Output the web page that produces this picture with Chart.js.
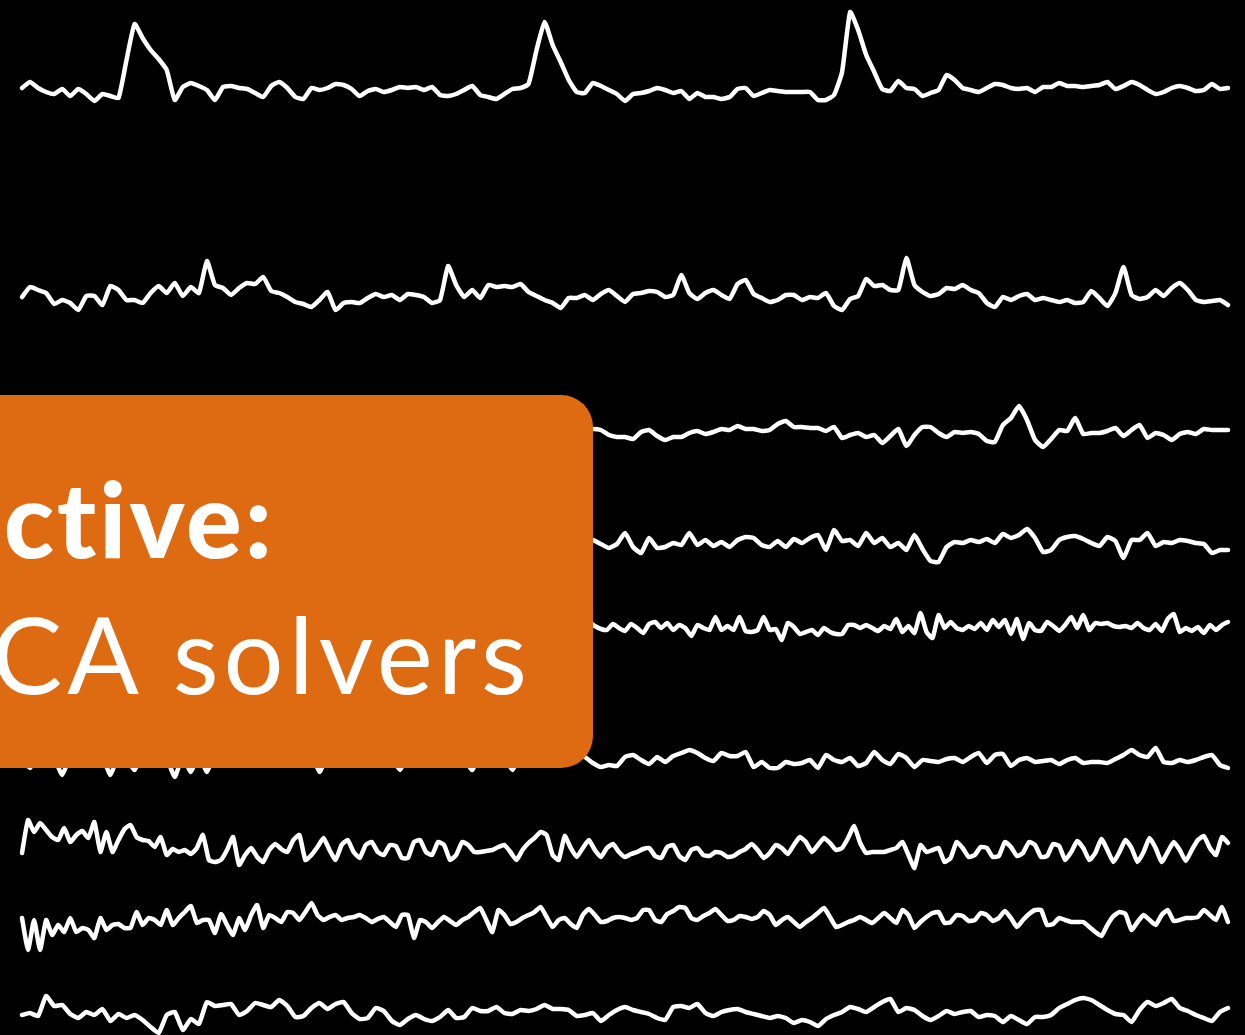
<!DOCTYPE html>
<html>
<head>
<meta charset="utf-8">
<script src="https://cdn.jsdelivr.net/npm/chart.js@4.4.1/dist/chart.umd.min.js"></script>
<style>
  html, body { margin: 0; padding: 0; background: #000; overflow: hidden; }
  #page { position: relative; width: 1245px; height: 1035px; }
  #traces { position: absolute; left: 0; top: 0; }
  .banner {
    position: absolute; left: -60px; top: 395px; width: 653px; height: 373px;
    background: #DE6B12; border-radius: 32px;
  }
  .line {
    position: absolute; color: #fff; font-family: Lato, "Open Sans", sans-serif;
    white-space: nowrap; line-height: 1; text-align: right;
    font-variant-ligatures: none; font-feature-settings: "liga" 0, "clig" 0;
  }
  .l1 { right: 970px; top: 466px; font-size: 104px; font-weight: 900; letter-spacing: 3px; }
  .l2 { right: 713px; top: 600px; font-size: 106px; font-weight: 400; letter-spacing: 5px; }
</style>
</head>
<body>
<div id="page">
  <canvas id="traces" width="1245" height="1035"></canvas>
  <div class="banner"></div>
  <div class="line l1">ctive:</div>
  <div class="line l2">CA solvers</div>
</div>
<script>
// nine recorded channels, amplitude relative to each channel's resting level
const trace1 = [2,8,2,-2,-4,1,-6,1,-4,-11, -4,-6,-8,30,66,52,40,31,20,-10, 3,7,4,0,-10,3,4,2,1,-3,
  -7,4,8,2,-7,-9,2,0,2,6, 5,1,-6,-1,1,-2,0,3,2,3, 0,3,-5,-6,-4,0,4,-5,-7,-9,
  -4,1,2,6,40,68,45,28,10,-2, -3,7,4,0,-4,-11,-4,-3,-1,2, 0,-3,-1,-9,-3,-7,-7,-9,-7,1,
  2,-6,-3,0,-1,-2,-2,-2,-2,-10, -10,-5,18,78,60,35,18,1,-1,9, 2,1,-6,-3,0,15,10,2,0,-2,
  2,6,5,2,1,2,-2,3,3,7, 4,4,3,4,5,8,1,4,8,5, 0,-4,-2,2,4,2,-1,0,6,1, 2];
const trace2 = [-2,8,5,2,-9,-5,-8,-15,-1,-1, -10,9,5,-5,-5,-8,2,9,2,12, -1,8,2,34,10,7,0,7,12,11,
  18,4,2,-2,-7,-9,-12,-5,3,-15, -8,-7,-8,-3,1,-2,0,-5,1,0, -2,-8,-5,29,10,-2,5,-3,10,8,
  9,8,11,3,-1,-5,-8,-13,-3,-3, 0,-5,1,5,-1,-7,1,2,4,3, -2,0,20,2,-4,2,5,0,-4,11,
  15,1,-3,-7,-5,0,0,-5,-2,-3, 2,-11,-15,-4,-1,16,9,10,5,5, 37,10,3,-1,1,7,6,10,5,2,
  -8,-12,-2,-5,-1,1,-5,-3,-5,-7, -5,-8,-7,4,-3,-11,2,28,0,-4, -2,5,-1,7,12,5,-5,-7,-6,-5, -10];
const trace3 = [0,1,0,-5,-7,-7,-9,-2,0,-6, -10,-7,-7,-3,-1,-4,-2,1,0,4, 1,1,-1,0,6,9,3,3,2,2,
  -1,3,-8,-5,-3,-7,-5,-13,-6,1, -16,-5,3,3,-3,-7,-2,-3,-2,-4, -11,-12,5,12,24,10,-10,-17,-9,0,
  -1,12,-4,-3,-3,-1,2,-6,0,5, -8,-3,-5,-10,-4,-2,-4,1,0,0, 0];
const trace4 = [5,5,1,-3,1,12,-2,-8,7,-3, -2,2,0,12,0,5,-1,3,-2,5, 8,7,0,-2,4,-2,6,2,7,10,
  -5,15,4,5,-1,12,2,7,-2,2, -5,10,-4,-16,-17,-2,3,2,5,3, 6,2,11,7,10,16,7,-7,-5,5,
  8,9,6,2,-1,8,4,-13,5,5, 12,-1,3,2,5,4,2,1,-8,-5, -5];
const trace5 = [0,3,-1,-4,-5,1,-3, -6,1,-3,-8,1,3,-3,2,-5,0, -3,-11,0,-3,-5,8,-5,-1,-5,8,
  -6,-7,-5,8,-5,-4,-15,2,-2,-9, -7,-5,-10,-3,-7,-9,-9,0,0,-3, 0,-3,-6,-1,-4,6,-7,-1,-8,12,
  -7,-13,10,-3,3,-3,-5,-1,-4,2, -5,5,-2,5,-9,6,-14,2,-5,-6, 3,-1,-6,0,8,-3,10,-5,2,1,
  2,-1,-2,-1,-3,2,-3,-5,1,-6, 6,11,-7,-3,-6,-2,-8,0,-5,0, 3];
const trace6 = [0,-8,4,6,2,-15,4,8,2,6, 3,-15,5,2,-10,6,3,8,2,-17, 4,-12,5,-12,6,3,8,2,5,9,
  3,6,0,7,4,2,6,-12,5,8, 3,6,1,7,4,8,2,-10,5,9, 3,6,2,8,4,1,-10,6,3,8,
  2,-10,5,7,2,6,0,5,3,4, 3,-3,-7,-5,-6,3,5,0,-4,3, -2,4,7,10,7,2,-1,7,4,4,
  8,-7,-2,-8,-8,-2,-4,-3,0,-8, 5,0,-2,2,-6,-3,8,0,-4,6, 2,-7,0,-1,-2,1,2,-2,3,7,
  -3,5,6,-6,0,2,-2,-1,0,-4, 0,2,-3,-2,-2,-3,1,5,10,5, 3,12,-2,-3,0,-2,0,3,5,-5, -8];
const trace7 = [-8,25,13,22,15,8,5,17,3,10, 14,7,23,-7,13,-7,5,16,20,8, 5,4,-2,8,-10,-4,-7,-5,-9,-3,
  10,-15,-17,-15,-5,8,-20,-10,-3,-12, -17,-5,1,-4,-7,5,10,-15,-10,-2, 7,-5,-15,0,5,-7,-13,0,3,-7,
  -10,0,-1,-13,-13,3,5,-7,-10,3, 0,-15,-10,3,0,-7,-7,-6,-5,-2, 0,-7,-15,-5,2,7,13,10,-10,-15,
  9,-3,-12,-3,5,-5,-12,-3,1,-7, -12,-9,-7,-4,-3,-11,-13,-2,0,-11, -15,-5,-3,-10,-11,-7,-8,-12,-11,-7,
  -4,1,-5,-13,-8,0,-3,-9,0,8, 3,-7,0,7,2,-5,-3,7,19,2, -8,-7,-7,-7,-5,-3,3,-10,-23,0,
  -7,-5,-3,-17,-13,3,-3,-12,-10,-2, -3,-12,-11,3,-2,-11,-8,3,0,-12, -11,1,-1,-15,-7,4,-3,-15,-8,6,
  -5,-17,-7,5,-3,-17,-7,7,-3,-17, -7,3,-5,-16,-5,5,9,-3,-10,8, 2];
const trace8 = [7,-25,5,-25,5,-10,0,-7,7,-7, -3,-5,-13,7,-5,0,1,-3,-3,13, 0,7,5,0,15,0,7,13,19,2,
  5,5,-8,11,0,-10,7,-5,10,20, -3,10,7,3,13,12,5,13,22,10, 5,8,10,5,7,8,10,7,3,6,
  8,3,-2,10,10,-13,5,3,-3,3, 8,4,0,5,8,13,17,5,-7,15, 10,1,3,7,10,13,18,8,-2,5,
  7,1,-3,10,16,10,3,4,7,8, 7,5,7,15,15,5,3,11,14,18, 17,7,5,9,12,16,10,4,5,9,
  8,6,8,14,10,0,5,8,3,-2, 3,7,12,17,8,-2,0,3,5,8, 5,2,7,12,7,2,15,10,-3,3,
  8,12,13,2,3,10,9,4,5,12, 10,4,7,14,7,-2,5,11,15,15, 0,1,7,5,3,3,3,-2,-7,-11,
  0,9,13,11,-5,3,10,5,0,10, 15,4,5,7,7,8,15,10,5,18, 3];
const trace9 = [-5,-3,-6,14,4,5,-4,-8,-2,-5, 1,-11,-4,-8,-5,-10,-17,-23,-5,-2, -20,-9,-14,8,4,5,6,-5,-1,7,
  5,3,10,4,-7,-6,2,7,1,6, 8,-3,-9,-8,2,-1,-11,-15,-9,-5, -9,-11,-7,0,-8,-7,2,-1,-1,3,
  -3,-4,0,-1,1,5,1,1,0,-6, -5,-3,-11,-5,0,3,0,-2,-4,-8, -10,3,4,2,6,-3,-6,-2,0,1,
  -2,-4,-6,-8,-6,-8,-13,-10,-12,-16, -9,-5,-2,3,1,-2,3,8,11,-2, 2,0,-6,-10,-6,-1,-4,-2,-1,-7,
  -5,-6,-12,-6,-10,-14,-7,-7,-5,2, 6,10,12,10,5,0,-4,-5,-12,0, 8,4,7,11,2,-1,-5,-8,-11,-2, 2];

const traces = [trace1, trace2, trace3, trace4, trace5, trace6, trace7, trace8, trace9];
// samples per channel over the full recording; shorter arrays are the tail end of it
const sampleCount = [151, 151, 151, 151, 201, 151, 201, 201, 151];
const recordSeconds = 60;

// layout: resting level of each row (px from top) and horizontal extent of the traces
const rowLevel = [90, 295, 430, 545, 625, 760, 845, 925, 1010];
const W = 1245, H = 1035, left = 22, right = 1228;

const span = recordSeconds * W / (right - left);
const xMin = -left / W * span;

const datasets = traces.map((vals, k) => {
    const n = sampleCount[k];
    const first = n - vals.length;
    return {
        data: vals.map((v, j) => ({ x: (first + j) * recordSeconds / (n - 1), y: v })),
        yAxisID: 'y' + k,
        borderColor: '#ffffff',
        borderWidth: 4.5,
        borderJoinStyle: 'round',
        borderCapStyle: 'round',
        pointRadius: 0,
        tension: 0.15,
        fill: false
    };
});

const scales = {
    x: { type: 'linear', display: false, min: xMin, max: xMin + span }
};
rowLevel.forEach((level, k) => {
    scales['y' + k] = { type: 'linear', display: false, min: level - H, max: level };
});

new Chart(document.getElementById('traces'), {
    type: 'line',
    data: { datasets: datasets },
    options: {
        responsive: false,
        animation: false,
        devicePixelRatio: 1,
        layout: { padding: 0 },
        scales: scales,
        plugins: { legend: { display: false }, tooltip: { enabled: false } }
    }
});
</script>
</body>
</html>
